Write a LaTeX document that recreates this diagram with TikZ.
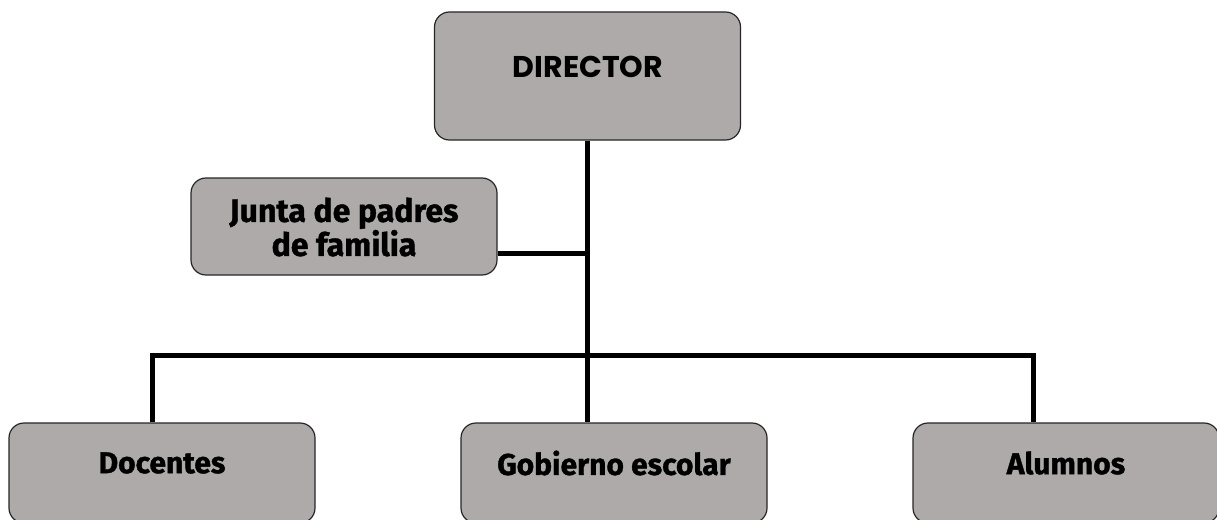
\documentclass[tikz,border=0pt]{standalone}
\usepackage{fontspec}
\setmainfont{Fira Sans}[BoldFeatures={FakeBold=1.2}]
\newfontfamily\capfont{Poppins}
\definecolor{boxgray}{HTML}{AEAAAA}
\tikzset{
  box/.style={draw=black!85, line width=1.2pt, fill=boxgray, rounded corners=15pt,
    minimum width=306pt, inner sep=0pt},
  lbl/.style={font=\bfseries\fontsize{30}{28}\selectfont, align=center},
  link/.style={line width=5pt}
}
\begin{document}
\begin{tikzpicture}[x=1pt,y=-1pt]
  \useasboundingbox (0,0) rectangle (1217,519);

  \node[box, minimum height=128pt] (dir) at (587.5,76) {};
  \node[lbl, font=\capfont\bfseries\fontsize{30}{30}\selectfont] (dirtxt) at (588,67) {DIRECTOR};

  \node[box, minimum height=97pt] (jun) at (344,226.5) {};
  \node[lbl, font=\bfseries\fontsize{32}{28}\selectfont] (juntxt) at (344,227) {Junta de padres\\de familia};

  \node[box, minimum height=100pt] (doc) at (162,473) {};
  \node[lbl] (doctxt) at (162,463) {Docentes};
  \node[box, minimum height=100pt] (gob) at (614,473) {};
  \node[lbl] (gobtxt) at (614,463) {Gobierno escolar};
  \node[box, minimum height=100pt] (alu) at (1066,473) {};
  \node[lbl] (alutxt) at (1066,463) {Alumnos};

  \coordinate (busL) at (152,355);
  \coordinate (busM) at (587,355);
  \coordinate (busR) at (1033,355);
  \coordinate (junR) at (jun.east |- 0,253);
  \coordinate (junM) at (587,253);

  \draw[link] (dir.south -| busM) -- (busM |- gob.north);
  \draw[link] (junR) -- (junM);
  \draw[link] (busL |- doc.north) -- (busL) -- (busR) -- (busR |- alu.north);
\end{tikzpicture}
\end{document}
